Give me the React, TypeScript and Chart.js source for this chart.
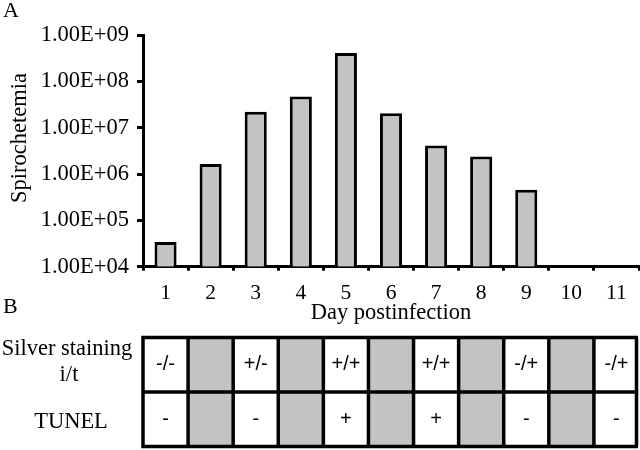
import React, { useEffect, useRef } from "react";
import { Chart, registerables } from "chart.js";

Chart.register(...registerables);

// ---- data ----
const days: string[] = ["1", "2", "3", "4", "5", "6", "7", "8", "9", "10", "11"];
const spirochetemia: (number | null)[] = [3.4e4, 1.64e6, 2.2e7, 4.7e7, 4.1e8, 2.05e7, 4.1e6, 2.39e6, 4.6e5, null, null];
const yTickValues: number[] = [1e4, 1e5, 1e6, 1e7, 1e8, 1e9];
const silverStaining: string[] = ["-/-", "", "+/-", "", "+/+", "", "+/+", "", "-/+", "", "-/+"];
const tunel: string[] = ["-", "", "-", "", "+", "", "+", "", "-", "", "-"];
const shadedColumns: boolean[] = [false, true, false, true, false, true, false, true, false, true, false];
const rowLabels: string[][] = [["Silver staining", "i/t"], ["TUNEL"]];
const yTitle = "Spirochetemia";
const xTitle = "Day postinfection";

const GRAY = "rgb(194,195,194)";
const SERIF = "'Liberation Serif', 'Times New Roman', serif";
const SANS = "'Liberation Sans', Arial, sans-serif";

function fmtExp(v: number): string {
  const e = Math.round(Math.log10(v));
  return "1.00E+" + (e < 10 ? "0" + e : String(e));
}

const decorPlugin = {
  id: "decor",
  afterDraw(chart: any) {
    const ctx: CanvasRenderingContext2D = chart.ctx;
    const x = chart.scales.x;
    const n = days.length;
    const cw = (x.right - x.left) / n;
    const top = x.bottom + 11.3;
    const rowH = 54.5;
    const rows = [silverStaining, tunel];
    ctx.save();
    // panel letters
    ctx.fillStyle = "#000";
    ctx.font = "22px " + SERIF;
    ctx.textAlign = "left";
    ctx.textBaseline = "alphabetic";
    ctx.fillText("A", 3, 17);
    ctx.fillText("B", 3, 313);

    // y axis title
    ctx.save();
    ctx.translate(20, 138);
    ctx.rotate(-Math.PI / 2);
    ctx.textAlign = "center";
    ctx.textBaseline = "middle";
    ctx.font = "22.5px " + SERIF;
    ctx.fillText(yTitle, 0, 0);
    ctx.restore();

    // shaded cells
    for (let i = 0; i < n; i++) {
      if (shadedColumns[i]) {
        ctx.fillStyle = GRAY;
        ctx.fillRect(x.left + i * cw, top, cw, rowH * rows.length);
      }
    }
    // grid lines
    ctx.strokeStyle = "#000";
    ctx.lineWidth = 3.5;
    ctx.beginPath();
    for (let r = 0; r <= rows.length; r++) {
      ctx.moveTo(x.left - 1.75, top + r * rowH);
      ctx.lineTo(x.right - 1, top + r * rowH);
    }
    for (let i = 0; i <= n; i++) {
      const px = Math.min(x.left + i * cw, x.right - 2.5);
      ctx.moveTo(px, top);
      ctx.lineTo(px, top + rows.length * rowH);
    }
    ctx.stroke();

    // cell text
    ctx.fillStyle = "#000";
    ctx.font = "20px " + SANS;
    ctx.textAlign = "center";
    ctx.textBaseline = "middle";
    rows.forEach((row, r) => {
      row.forEach((t, i) => {
        if (t) ctx.fillText(t, x.left + (i + 0.5) * cw, top + (r + 0.5) * rowH);
      });
    });

    // row labels
    ctx.font = "22.5px " + SERIF;
    ctx.textBaseline = "alphabetic";
    const lx = x.left - 76;
    ctx.fillText(rowLabels[0][0], lx, top + 17.5);
    ctx.fillText(rowLabels[0][1], lx + 2, top + 43.5);
    ctx.fillText(rowLabels[1][0], lx + 4, top + rowH + 36);
    ctx.restore();
  },
};

export default function App() {
  const ref = useRef<HTMLCanvasElement | null>(null);
  useEffect(() => {
    if (!ref.current) return;
    const chart = new Chart(ref.current, {
      type: "bar",
      data: {
        labels: days,
        datasets: [
          {
            data: spirochetemia as any,
            backgroundColor: GRAY,
            borderColor: "#000",
            borderWidth: 3,
            barPercentage: 0.49,
            categoryPercentage: 1,
          },
        ],
      },
      options: {
        responsive: false,
        animation: false,
        layout: { padding: { top: 35, left: 0, right: 1, bottom: 123.8 } },
        plugins: { legend: { display: false }, tooltip: { enabled: false }, title: { display: false } },
        scales: {
          x: {
            offset: true,
            grid: {
              offset: true,
              drawOnChartArea: false,
              drawTicks: true,
              tickLength: 4,
              tickWidth: 3,
              tickColor: "#000",
              color: "#000",
            },
            border: { display: true, color: "#000", width: 3 },
            ticks: { color: "#000", font: { family: SERIF, size: 21.5 }, padding: 10, maxRotation: 0, autoSkip: false },
            title: {
              display: true,
              text: xTitle,
              color: "#000",
              font: { family: SERIF, size: 22.5 },
              padding: { top: 0, bottom: 0 },
            },
            afterFit: (s: any) => {
              s.height = 59.5;
            },
          },
          y: {
            type: "logarithmic",
            min: 1e4,
            max: 1e9,
            grid: {
              drawOnChartArea: false,
              drawTicks: true,
              tickLength: 6,
              tickWidth: 3,
              tickColor: "#000",
              color: "#000",
            },
            border: { display: true, color: "#000", width: 3 },
            afterBuildTicks: (s: any) => {
              s.ticks = yTickValues.map((v) => ({ value: v }));
            },
            ticks: {
              color: "#000",
              font: { family: SERIF, size: 22.5 },
              padding: 8,
              autoSkip: false,
              callback: (v: any) => fmtExp(Number(v)),
            },
            title: { display: false },
            afterFit: (s: any) => {
              s.width = 143;
            },
          },
        },
      },
      plugins: [decorPlugin],
    });
    return () => chart.destroy();
  }, []);
  return (
    <div style={{ position: "fixed", left: 0, top: 0, width: 640, height: 450, background: "#fff" }}>
      <canvas ref={ref} width={640} height={450} style={{ display: "block", width: 640, height: 450 }} />
    </div>
  );
}
